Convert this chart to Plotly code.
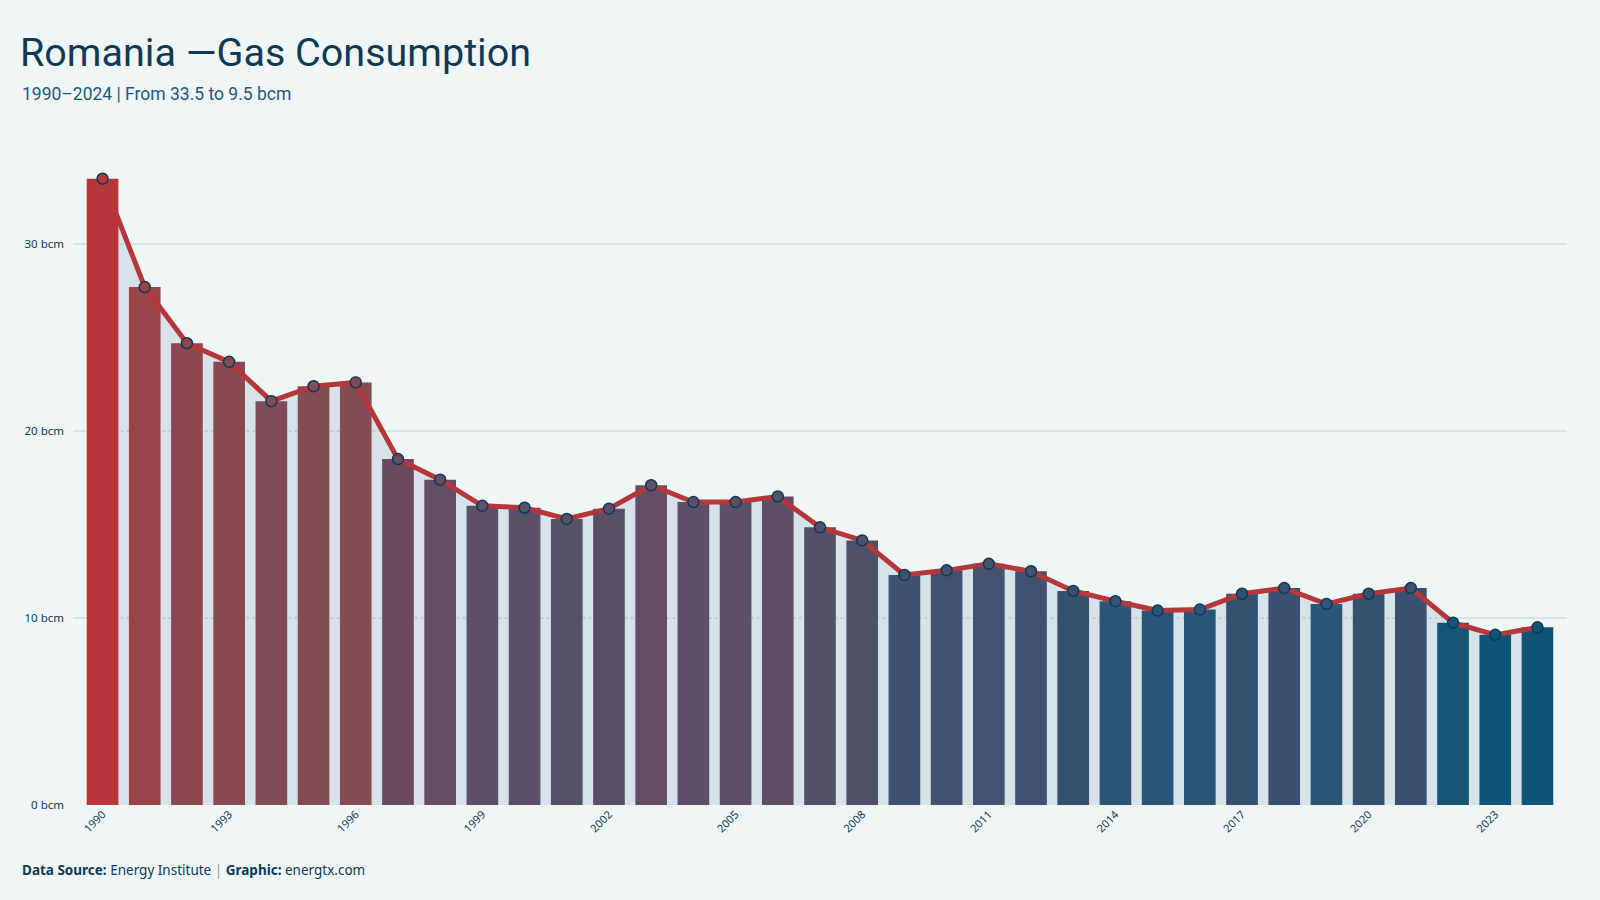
import plotly.graph_objects as go

years = list(range(1990, 2025))
consumption = [33.5, 27.7, 24.7, 23.7, 21.6, 22.4, 22.6, 18.5, 17.4, 16.0,
               15.9, 15.3, 15.85, 17.1, 16.2, 16.2, 16.5, 14.85, 14.15, 12.3,
               12.55, 12.9, 12.5, 11.45, 10.9, 10.4, 10.45, 11.3, 11.6, 10.75,
               11.3, 11.6, 9.75, 9.1, 9.5]
y_ticks = [0, 10, 20, 30]
y_tick_labels = ["0 bcm", "10 bcm", "20 bcm", "30 bcm"]
x_ticks = list(range(1990, 2025, 3))

BG = "#F0F5F5"
FILL = "#D7E3E8"
NAVY = "#0E3A56"
RED = "#B5373A"
TITLE_FONT = "Roboto, sans-serif"

colorscale = [
    [0.0, "#0F5578"], [0.018, "#0F5578"], [0.03, "#1A5577"], [0.05, "#2A5577"],
    [0.075, "#2D5576"], [0.09, "#32526F"], [0.105, "#3A506E"], [0.135, "#3F5270"],
    [0.16, "#45536F"], [0.21, "#4F5169"], [0.28, "#5A5068"], [0.33, "#634E66"],
    [0.39, "#6A4A5E"], [0.51, "#7E4D57"], [0.64, "#8C4850"], [0.76, "#9A4448"],
    [1.0, "#B5373A"],
]

# dotted grid segments only where the filled area lies (derived from data)
gx, gy = [], []
for L in y_ticks[1:]:
    segs = []
    for i in range(len(years) - 1):
        x0, x1 = years[i], years[i + 1]
        v0, v1 = consumption[i], consumption[i + 1]
        if v0 >= L and v1 >= L:
            segs.append([x0, x1])
        elif v0 >= L > v1:
            segs.append([x0, x0 + (v0 - L) / (v0 - v1)])
        elif v1 >= L > v0:
            segs.append([x0 + (L - v0) / (v1 - v0), x1])
    merged = []
    for s in segs:
        if merged and abs(merged[-1][1] - s[0]) < 1e-9:
            merged[-1][1] = s[1]
        else:
            merged.append(list(s))
    for a, b in merged:
        gx += [a, b, None]
        gy += [L, L, None]

fig = go.Figure()
fig.add_trace(go.Scatter(x=years, y=consumption, mode="lines", line=dict(width=0),
                         fill="tozeroy", fillcolor=FILL, hoverinfo="skip", showlegend=False))
fig.add_trace(go.Scatter(x=gx, y=gy, mode="lines", line=dict(color="#A9B8BE", width=1, dash="3px,3px"),
                         hoverinfo="skip", showlegend=False))
fig.add_trace(go.Bar(x=years, y=consumption, width=0.75, xaxis="x2", yaxis="y2",
                     marker=dict(color=consumption, colorscale=colorscale, line=dict(width=0)),
                     showlegend=False))
fig.add_trace(go.Scatter(x=years, y=consumption, mode="lines+markers", xaxis="x2", yaxis="y2",
                         line=dict(color=RED, width=5),
                         marker=dict(size=11, color=consumption, colorscale=colorscale,
                                     line=dict(color=NAVY, width=1.5)),
                         showlegend=False))

fig.update_layout(
    width=1600, height=900,
    paper_bgcolor=BG, plot_bgcolor=BG,
    margin=dict(l=73, r=33, t=116, b=95),
    title=dict(text="Romania —Gas Consumption", x=20/1600, xanchor="left", xref="container",
               y=1 - 66/900, yanchor="bottom", yref="container",
               font=dict(family=TITLE_FONT, size=39.5, color=NAVY)),
    annotations=[
        dict(text="1990–2024 | From 33.5 to 9.5 bcm", xref="paper", yref="paper",
             x=-53/1494, y=1 + (116 - 106) / 689, xanchor="left", yanchor="bottom",
             showarrow=False,
             font=dict(family=TITLE_FONT, size=17.5, color="#1B5A80")),
        dict(text="<b>Data Source:</b> Energy Institute <span style='color:#8A9BA8'>|</span> <b>Graphic:</b> energtx.com",
             xref="paper", yref="paper", x=-53/1494, y=-(881 - 805) / 689,
             xanchor="left", yanchor="bottom", showarrow=False,
             font=dict(family="Noto Sans, sans-serif", size=13.5, color=NAVY)),
    ],
    xaxis=dict(range=[1989.3, 2024.7], tickvals=x_ticks, tickangle=-45,
               showgrid=False, zeroline=False, showline=False, ticks="",
               tickfont=dict(family="Noto Sans, sans-serif", size=11, color=NAVY)),
    yaxis=dict(range=[0, 36.85], tickvals=y_ticks, ticktext=y_tick_labels,
               showgrid=True, gridcolor=FILL, gridwidth=2, zeroline=False,
               showline=False, ticks="", ticklabelstandoff=8,
               tickfont=dict(family="Noto Sans, sans-serif", size=11.5, color=NAVY)),
    xaxis2=dict(overlaying="x", matches="x", visible=False, showgrid=False, zeroline=False),
    yaxis2=dict(overlaying="y", matches="y", visible=False, showgrid=False, zeroline=False),
    bargap=0.25,
)

fig.write_html("out.html")
